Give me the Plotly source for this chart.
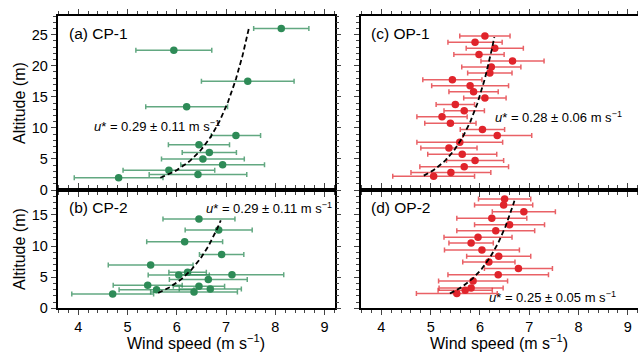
import numpy as np
import plotly.graph_objects as go
from plotly.subplots import make_subplots

# ---------------- data ----------------
# (a) CP-1
cp1_u = [8.12, 5.94, 7.44, 6.20, 7.20, 6.45, 6.66, 6.53, 6.93, 5.84, 6.43, 4.82]
cp1_z = [26.0, 22.5, 17.5, 13.4, 8.76, 7.30, 6.05, 5.00, 4.08, 3.17, 2.50, 1.98]
cp1_e = [0.56, 0.77, 0.94, 0.83, 0.50, 0.62, 0.55, 0.84, 0.85, 0.93, 0.99, 0.90]

# (b) CP-2
cp2_u = [6.45, 6.85, 6.16, 6.91, 5.47, 6.22, 6.04, 7.12, 6.64, 5.41, 6.45, 5.59, 6.68, 6.35, 4.70]
cp2_z = [14.36, 12.56, 10.70, 8.65, 6.95, 5.81, 5.35, 5.38, 4.62, 3.72, 3.55, 2.96, 3.10, 2.61, 2.28]
cp2_e = [0.73, 0.68, 0.77, 0.45, 0.86, 0.38, 0.62, 1.05, 0.79, 0.70, 0.52, 0.76, 0.63, 0.88, 0.83]

# (c) OP-1
op1_u = [6.10, 5.90, 6.30, 5.98, 6.66, 6.23, 6.20, 5.44, 5.80, 5.87, 6.10, 5.50,
         5.68, 5.23, 5.40, 6.05, 6.35, 5.59, 5.37, 5.64, 5.90, 5.68, 5.41, 5.06]
op1_z = [24.79, 23.77, 22.80, 21.82, 20.75, 19.78, 18.82, 17.74, 16.77, 15.80, 14.79, 13.76,
         12.74, 11.77, 10.75, 9.73, 8.76, 7.69, 6.77, 5.75, 4.73, 3.76, 2.80, 2.21]
op1_e = [0.51, 0.55, 0.58, 0.51, 0.64, 0.60, 0.45, 0.60, 0.78, 0.50, 0.43, 0.39,
         0.41, 0.51, 0.52, 0.45, 0.70, 0.87, 0.57, 0.70, 0.58, 0.90, 0.81, 0.83]

# (d) OP-2
op2_u = [6.50, 6.48, 6.89, 6.24, 6.60, 6.32, 5.96, 5.82, 6.04, 6.38, 6.18, 6.78,
         6.37, 5.86, 5.82, 5.70, 5.53]
op2_z = [17.55, 16.58, 15.49, 14.46, 13.42, 12.45, 11.41, 10.49, 9.35, 8.37, 7.45, 6.41,
         5.38, 4.40, 3.26, 2.88, 2.38]
op2_e = [0.53, 0.59, 0.64, 0.71, 0.71, 0.79, 0.69, 0.45, 0.76, 0.65, 0.53, 0.69,
         1.02, 0.70, 0.65, 0.55, 0.82]

# log-law fits  u = u*/kappa * ln(z/z0)
kappa = 0.4
fit_ustar = [0.279, 0.290, 0.242, 0.264]
fit_z0 = [5.87e-4, 1.05e-3, 7.5e-4, 6.76e-4]
fit_zmin = [1.98, 2.45, 2.31, 2.38]
fit_zmax = [26.1, 14.13, 24.6, 17.29]

panel_titles = ["(a) CP-1", "(b) CP-2", "(c) OP-1", "(d) OP-2"]
ustar_labels = ["0.29 ± 0.11", "0.29 ± 0.11", "0.28 ± 0.06", "0.25 ± 0.05"]

GREEN = "#2e8b57"
GREEN_BAR = "rgba(46,139,87,0.75)"
RED = "#e0242b"
RED_BAR = "rgba(224,36,43,0.72)"

W, H = 638, 355
FONT = "Liberation Sans, Arial, sans-serif"

fig = make_subplots(rows=2, cols=2)

panels = [
    (cp1_u, cp1_z, cp1_e, 1, 1, GREEN, GREEN_BAR),
    (cp2_u, cp2_z, cp2_e, 2, 1, GREEN, GREEN_BAR),
    (op1_u, op1_z, op1_e, 1, 2, RED, RED_BAR),
    (op2_u, op2_z, op2_e, 2, 2, RED, RED_BAR),
]

for i, (u, z, e, r, c, mc, bc) in enumerate(panels):
    fig.add_trace(go.Scatter(
        x=u, y=z, mode="markers",
        marker=dict(color=mc, size=7.5),
        error_x=dict(type="data", array=e, symmetric=True, color=bc,
                     thickness=1.5, width=2.5),
        showlegend=False, hoverinfo="skip"), row=r, col=c)
    zz = np.linspace(fit_zmin[i], fit_zmax[i], 80)
    uu = fit_ustar[i] / kappa * np.log(zz / fit_z0[i])
    fig.add_trace(go.Scatter(
        x=uu, y=zz, mode="lines",
        line=dict(color="black", width=1.8, dash="5px,3px"),
        showlegend=False, hoverinfo="skip"), row=r, col=c)

# geometry (pixels)
xl = [57.5, 334.5]
xr = [360.7, 637.7]
top_y = [16.0, 190.0]
bot_y = [190.0, 308.3]


def xd(p):
    return [p[0] / W, p[1] / W]


def yd(p):
    return [(H - p[1]) / H, (H - p[0]) / H]


common_x = dict(range=[3.58, 9.2], dtick=1, tick0=4, ticks="outside", ticklen=5,
                tickwidth=1.3, mirror="ticks", showline=True, linecolor="black",
                linewidth=1.5, showgrid=False, zeroline=False, automargin=False,
                minor=dict(dtick=0.2, ticks="outside", ticklen=3, tickwidth=1),
                tickfont=dict(family=FONT, size=14.5, color="black"))
common_y = dict(dtick=5, tick0=0, ticks="outside", ticklen=5, tickwidth=1.3,
                mirror="ticks", showline=True, linecolor="black", linewidth=1.5,
                showgrid=False, zeroline=False, automargin=False,
                minor=dict(dtick=1, ticks="outside", ticklen=3, tickwidth=1),
                tickfont=dict(family=FONT, size=14.5, color="black"))

fig.update_xaxes(common_x)
fig.update_yaxes(common_y)

fig.update_xaxes(domain=xd(xl), showticklabels=False, row=1, col=1)
fig.update_xaxes(domain=xd(xl), showticklabels=True, row=2, col=1)
fig.update_xaxes(domain=xd(xr), showticklabels=False, row=1, col=2)
fig.update_xaxes(domain=xd(xr), showticklabels=True, row=2, col=2)

fig.update_yaxes(domain=yd(top_y), range=[0, 28], showticklabels=True, row=1, col=1)
fig.update_yaxes(domain=yd(bot_y), range=[0, 19], showticklabels=True, row=2, col=1)
fig.update_yaxes(domain=yd(top_y), range=[0, 28], showticklabels=False, row=1, col=2)
fig.update_yaxes(domain=yd(bot_y), range=[0, 19], showticklabels=False, row=2, col=2)

ann = []


def add_text(px, py, text, size, xanchor="left", angle=0):
    ann.append(dict(x=px / W, y=(H - py) / H, xref="paper", yref="paper",
                    text=text, showarrow=False, xanchor=xanchor, yanchor="middle",
                    textangle=angle,
                    font=dict(family=FONT, size=size, color="black")))


# panel titles
add_text(67, 33.5, panel_titles[0], 15.5)
add_text(67, 207, panel_titles[1], 15.5)
add_text(369, 33.5, panel_titles[2], 15.5)
add_text(369, 207, panel_titles[3], 15.5)

# u* labels
def ulab(s):
    return "<i>u</i>* = " + s + " m s<sup>−1</sup>"

add_text(92, 126, ulab(ustar_labels[0]), 13)
add_text(204, 208, ulab(ustar_labels[1]), 13)
add_text(493, 117, ulab(ustar_labels[2]), 13)
add_text(487, 297, ulab(ustar_labels[3]), 13)

# axis titles
add_text(20, 103, "Altitude (m)", 16, xanchor="center", angle=-90)
add_text(20, 249, "Altitude (m)", 16, xanchor="center", angle=-90)
add_text(196, 342, "Wind speed (m s<sup>−1</sup>)", 16, xanchor="center")
add_text(499, 342, "Wind speed (m s<sup>−1</sup>)", 16, xanchor="center")

fig.update_layout(
    width=W, height=H,
    margin=dict(l=0, r=0, t=0, b=0, pad=0, autoexpand=False),
    paper_bgcolor="white", plot_bgcolor="white",
    annotations=ann,
    font=dict(family=FONT, color="black"),
    hovermode=False,
)

fig.write_html(
    "out.html",
    config={"displayModeBar": False},
    post_script="document.body.style.margin='0px';",
)
